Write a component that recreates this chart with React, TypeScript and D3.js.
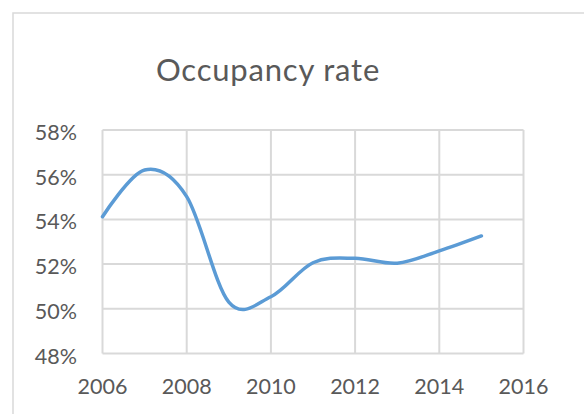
import React, { useEffect, useRef } from "react";
import * as d3 from "d3";

const years = [2006, 2007, 2008, 2009, 2010, 2011, 2012, 2013, 2014, 2015];
const occupancy = [0.5412, 0.5621, 0.5502, 0.503, 0.5054, 0.5206, 0.5226, 0.5204, 0.5259, 0.5326];
const yTicks = [0.48, 0.5, 0.52, 0.54, 0.56, 0.58];
const xTicks = [2006, 2008, 2010, 2012, 2014, 2016];

const App: React.FC = () => {
  const svgRef = useRef<SVGSVGElement | null>(null);

  useEffect(() => {
    if (!svgRef.current) return;
    const svg = d3.select(svgRef.current);
    svg.selectAll("*").remove();

    const width = 584;
    const height = 414;
    const textColor = "#595959";
    const gridColor = "#d9d9d9";
    const font = "Lato, 'Open Sans', sans-serif";

    svg.attr("width", width).attr("height", height);

    svg
      .append("rect")
      .attr("width", width)
      .attr("height", height)
      .attr("fill", "#fff");

    // chart area border (runs off the right and bottom edges)
    svg
      .append("rect")
      .attr("x", 13)
      .attr("y", 13)
      .attr("width", 640)
      .attr("height", 460)
      .attr("fill", "none")
      .attr("stroke", gridColor)
      .attr("stroke-width", 1.5);

    const x = d3.scaleLinear().domain([2006, 2016]).range([102.5, 523.5]);
    const y = d3.scaleLinear().domain([0.48, 0.58]).range([353.5, 130]);

    svg
      .append("text")
      .attr("x", 268)
      .attr("y", 81)
      .attr("text-anchor", "middle")
      .attr("font-family", font)
      .attr("font-size", 31)
      .attr("letter-spacing", 0.8)
      .attr("fill", textColor)
      .text("Occupancy rate");

    const grid = svg.append("g").attr("stroke", gridColor).attr("stroke-width", 2);

    grid
      .selectAll("line.h")
      .data(yTicks)
      .enter()
      .append("line")
      .attr("class", "h")
      .attr("x1", x(2006))
      .attr("x2", x(2016))
      .attr("y1", (d) => y(d))
      .attr("y2", (d) => y(d));

    grid
      .selectAll("line.v")
      .data(xTicks)
      .enter()
      .append("line")
      .attr("class", "v")
      .attr("x1", (d) => x(d))
      .attr("x2", (d) => x(d))
      .attr("y1", y(0.58))
      .attr("y2", y(0.48));

    svg
      .append("g")
      .selectAll("text")
      .data(yTicks)
      .enter()
      .append("text")
      .attr("x", 77)
      .attr("y", (d) => y(d) + 10)
      .attr("text-anchor", "end")
      .attr("font-family", font)
      .attr("font-size", 21.5)
      .attr("fill", textColor)
      .text((d) => d3.format(".0%")(d));

    svg
      .append("g")
      .selectAll("text")
      .data(xTicks)
      .enter()
      .append("text")
      .attr("x", (d) => x(d))
      .attr("y", 394)
      .attr("text-anchor", "middle")
      .attr("font-family", font)
      .attr("font-size", 21.5)
      .attr("fill", textColor)
      .text((d) => String(d));

    const line = d3
      .line<number>()
      .x((_, i) => x(years[i]))
      .y((d) => y(d))
      .curve(d3.curveCardinal.tension(0));

    svg
      .append("path")
      .datum(occupancy)
      .attr("d", line)
      .attr("fill", "none")
      .attr("stroke", "#5b9bd5")
      .attr("stroke-width", 3.5)
      .attr("stroke-linecap", "round");
  }, []);

  return (
    <svg
      ref={svgRef}
      style={{ position: "absolute", left: 0, top: 0, display: "block" }}
    ></svg>
  );
};

export default App;
